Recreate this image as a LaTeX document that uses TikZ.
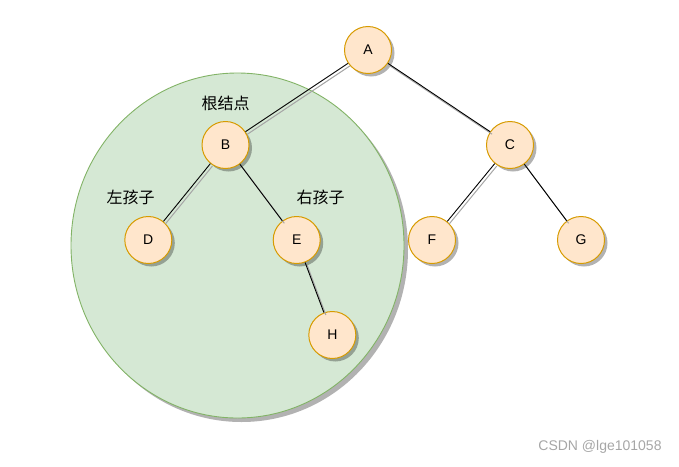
\documentclass[tikz,border=0pt]{standalone}
\usepackage{fontspec}
\setmainfont{Liberation Sans}
\newfontfamily\cjk{Noto Sans CJK SC}
\usetikzlibrary{shadows}

\definecolor{nodefill}{HTML}{FFE6CC}
\definecolor{nodeline}{HTML}{D79B00}
\definecolor{subfill}{HTML}{D5E8D4}
\definecolor{subline}{HTML}{82B366}

\tikzset{
    treenode/.style={draw=nodeline, fill=nodefill, circle, line width=1pt,
        minimum size=47pt, inner sep=0pt, font=\fontsize{14}{14}\selectfont,
        drop shadow={shadow xshift=3pt, shadow yshift=-3pt, fill=black, opacity=0.3}},
    edge/.style={black, line width=0.9pt},
    edgeshadow/.style={black!35, line width=1pt, transform canvas={shift={(2pt,-2.5pt)}}},
    tag/.style={font=\cjk\fontsize{16}{16}\selectfont}
}

\begin{document}
\begin{tikzpicture}[x=1pt, y=-1pt]
    \useasboundingbox (0,0) rectangle (679,466);
    % subtree of B
    \draw[subline, fill=subfill, line width=0.9pt,
        drop shadow={shadow xshift=4pt, shadow yshift=-4pt, fill=black, opacity=0.3}]
        (237.5,245.5) ellipse [x radius=166.5pt, y radius=172.5pt];

    \node[treenode] (A) at (368,50) {A};
    \node[treenode] (B) at (225.5,145) {B};
    \node[treenode] (C) at (510,145) {C};
    \node[treenode] (D) at (148.3,240) {D};
    \node[treenode] (E) at (296.7,240) {E};
    \node[treenode] (F) at (432,240) {F};
    \node[treenode] (G) at (581,240) {G};
    \node[treenode] (H) at (332.3,335) {H};

    \foreach \a/\b in {A/B, A/C, B/D, B/E, C/F, C/G, E/H} {
        \draw[edgeshadow] (\a) -- (\b);
        \draw[edge] (\a) -- (\b);
    }

    \node[tag] (root) at (225.7,103) {根结点};
    \node[tag] (left) at (130.7,197) {左孩子};
    \node[tag] (right) at (320.7,197) {右孩子};

    \node[text=gray!70, font=\fontsize{14}{14}\selectfont] (mark) at (600,447) {CSDN @lge101058};
\end{tikzpicture}
\end{document}
